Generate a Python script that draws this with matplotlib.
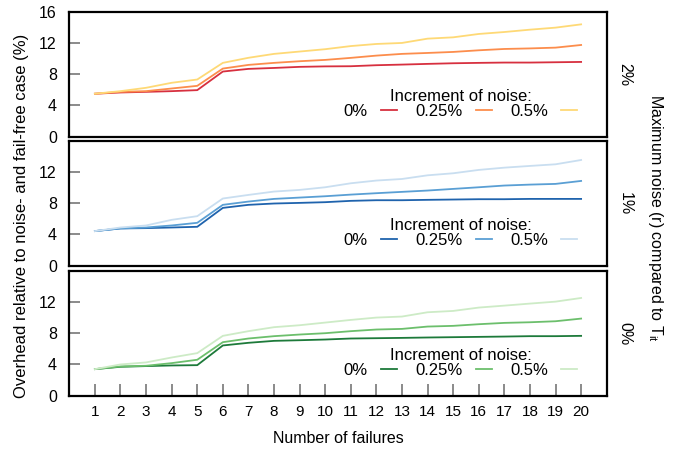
import numpy as np
import matplotlib
matplotlib.use("Agg")
import matplotlib.pyplot as plt

plt.rcParams["font.family"] = ["Liberation Sans", "DejaVu Sans"]
plt.rcParams["font.size"] = 11.5

failures = list(range(1, 21))
increments = ["0%", "0.25%", "0.5%"]

# maximum noise 2% (top panel)
r2_inc0 = [5.5, 5.66, 5.74, 5.83, 5.96, 8.34, 8.68, 8.8, 8.94, 9.0,
           9.02, 9.15, 9.23, 9.32, 9.4, 9.45, 9.49, 9.49, 9.53, 9.57]
r2_inc025 = [5.5, 5.74, 5.83, 6.17, 6.51, 8.72, 9.19, 9.45, 9.66, 9.83,
             10.09, 10.38, 10.6, 10.72, 10.85, 11.06, 11.23, 11.3, 11.4, 11.74]
r2_inc05 = [5.5, 5.83, 6.26, 6.9, 7.32, 9.45, 10.1, 10.6, 10.9, 11.2,
            11.6, 11.87, 12.0, 12.55, 12.72, 13.15, 13.4, 13.7, 13.96, 14.38]

# maximum noise 1% (middle panel)
r1_inc0 = [4.43, 4.77, 4.81, 4.89, 4.98, 7.4, 7.79, 7.96, 8.04, 8.13,
           8.3, 8.38, 8.38, 8.43, 8.47, 8.51, 8.51, 8.55, 8.55, 8.55]
r1_inc025 = [4.43, 4.77, 4.89, 5.15, 5.49, 7.79, 8.21, 8.55, 8.72, 8.89,
             9.1, 9.28, 9.45, 9.62, 9.83, 10.04, 10.26, 10.38, 10.47, 10.85]
r1_inc05 = [4.43, 4.89, 5.15, 5.87, 6.34, 8.6, 9.06, 9.49, 9.7, 10.04,
            10.55, 10.9, 11.1, 11.57, 11.83, 12.26, 12.55, 12.77, 12.98, 13.53]

# maximum noise 0% (bottom panel)
r0_inc0 = [3.4, 3.7, 3.79, 3.87, 3.91, 6.43, 6.77, 7.02, 7.1, 7.19,
           7.32, 7.36, 7.4, 7.45, 7.49, 7.53, 7.57, 7.62, 7.62, 7.66]
r0_inc025 = [3.4, 3.74, 3.83, 4.17, 4.6, 6.85, 7.32, 7.62, 7.83, 8.0,
             8.26, 8.47, 8.55, 8.85, 8.94, 9.15, 9.32, 9.4, 9.53, 9.87]
r0_inc05 = [3.4, 4.0, 4.26, 4.89, 5.45, 7.66, 8.26, 8.77, 9.02, 9.36,
            9.7, 10.0, 10.13, 10.68, 10.85, 11.28, 11.53, 11.79, 12.04, 12.51]

panels = [
    ("2%", [r2_inc0, r2_inc025, r2_inc05], ["#d7303f", "#fc8d4c", "#fed976"]),
    ("1%", [r1_inc0, r1_inc025, r1_inc05], ["#1f63ad", "#5a9fd4", "#c9def0"]),
    ("0%", [r0_inc0, r0_inc025, r0_inc05], ["#1d7a3a", "#6cbf6c", "#cdebc6"]),
]

fig = plt.figure(figsize=(6.79, 4.51), dpi=100)
W, H = 679, 451
left, right = 69.3, 606.7
tops = [11.7, 140.7, 270.7]
ph = 125

for i, (rname, series, colors) in enumerate(panels):
    top = tops[i]
    ax = fig.add_axes([left / W, 1 - (top + ph) / H, (right - left) / W, ph / H])
    for vals, c, lab in zip(series, colors, increments):
        ax.plot(failures, vals, color=c, lw=1.3, label=lab)
    ax.set_xlim(0, 21)
    ax.set_ylim(0, 16)
    ax.set_yticks([0, 4, 8, 12, 16] if i == 0 else [0, 4, 8, 12])
    for s in ax.spines.values():
        s.set_linewidth(1.6)
    ax.tick_params(axis="y", direction="in", length=8, width=1.2,
                   color="#777777", pad=9, labelsize=11.5)
    if i == 2:
        ax.set_xticks(failures)
        ax.tick_params(axis="x", direction="in", length=9, width=1.2,
                       color="#777777", pad=7, labelsize=11)
        ax.set_xlabel("Number of failures", fontsize=11.5, labelpad=8)
    else:
        ax.set_xticks([])
    leg = ax.legend(ncol=3, title="Increment of noise:", markerfirst=False,
                    frameon=False, loc="lower center", bbox_to_anchor=(0.728, 0.09),
                    handlelength=0.95, handletextpad=0.8, columnspacing=1.1,
                    fontsize=12, title_fontsize=12, borderaxespad=0)
    leg._legend_box.sep = 0
    # right-hand panel label
    fig.text(625 / W, 1 - (top + ph / 2) / H, rname, rotation=-90,
             ha="center", va="center", fontsize=11.5)

fig.text(22 / W, 1 - 216 / H, "Overhead relative to noise- and fail-free case (%)",
         rotation=90, ha="center", va="center", fontsize=12)
fig.text(655 / W, 1 - 218 / H, r"Maximum noise (r) compared to T$_\mathregular{it}$",
         rotation=-90, ha="center", va="center", fontsize=11.5)

fig.savefig("out.png", dpi=100)
